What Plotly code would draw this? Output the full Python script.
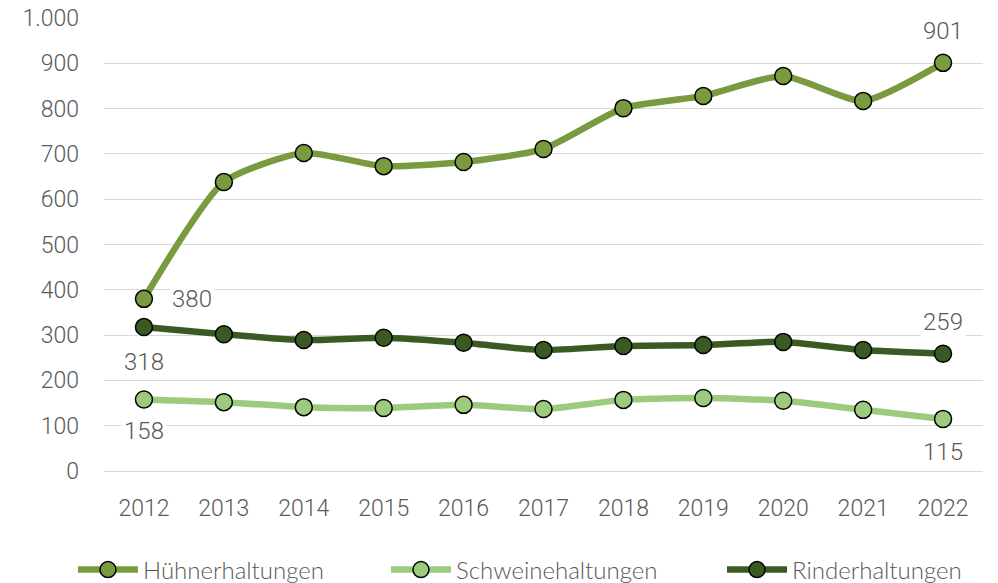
import plotly.graph_objects as go

years = [2012, 2013, 2014, 2015, 2016, 2017, 2018, 2019, 2020, 2021, 2022]
huehner = [380, 638, 702, 673, 682, 711, 801, 828, 872, 817, 901]
schweine = [158, 152, 141, 139, 146, 137, 157, 161, 155, 135, 115]
rinder = [318, 302, 289, 294, 283, 267, 276, 278, 285, 267, 259]
y_ticks = [0, 100, 200, 300, 400, 500, 600, 700, 800, 900, 1000]
y_ticktext = ["0", "100", "200", "300", "400", "500", "600", "700", "800", "900", "1.000"]

FONT = "Roboto, sans-serif"
LEGEND_FONT = "Lato, sans-serif"
GREY = "#595959"

series = [
    ("Hühnerhaltungen", huehner, "#7a9a40", "legend", -0.0353),
    ("Schweinehaltungen", schweine, "#9dcb7e", "legend2", 0.3208),
    ("Rinderhaltungen", rinder, "#3b5a23", "legend3", 0.7031),
]

fig = go.Figure()
for name, vals, col, leg, _ in series:
    fig.add_trace(go.Scatter(
        x=years, y=vals, name=name, mode="lines+markers", legend=leg,
        line=dict(color=col, width=6.5, shape="spline", smoothing=0.6),
        marker=dict(size=17, color=col, line=dict(color="black", width=1.5)),
    ))

# first/last value labels
labels = [
    (years[0], huehner[0], 48, 0),
    (years[0], rinder[0], 0, 35),
    (years[0], schweine[0], 0, 32),
    (years[-1], huehner[-1], 0, -32),
    (years[-1], rinder[-1], 0, -32),
    (years[-1], schweine[-1], 0, 33),
]
for x, v, ax, ay in labels:
    fig.add_annotation(
        x=x, y=v, text=str(v), showarrow=False, xshift=ax, yshift=-ay,
        font=dict(family=FONT, size=24, color=GREY, weight=300),
        bgcolor="white", borderpad=2,
    )

legend_style = dict(orientation="h", xanchor="left", y=-0.2185, yanchor="middle",
                    font=dict(family=LEGEND_FONT, size=24, color=GREY, weight=300),
                    itemwidth=60, bgcolor="rgba(0,0,0,0)")

fig.update_layout(
    width=998, height=583,
    margin=dict(l=104, r=15, t=18, b=112, autoexpand=False),
    plot_bgcolor="white", paper_bgcolor="white",
    font=dict(family=FONT, size=20, color=GREY, weight=300),
    showlegend=True,
    legend=dict(x=series[0][4], **legend_style),
    legend2=dict(x=series[1][4], **legend_style),
    legend3=dict(x=series[2][4], **legend_style),
)
fig.update_xaxes(range=[2011.5, 2022.5], tickvals=years, ticktext=[str(y) for y in years],
                 showgrid=False, showline=False, zeroline=False, ticks="",
                 automargin=False,
                 tickfont=dict(family=FONT, size=23, color=GREY, weight=300),
                 ticklabelstandoff=21)
fig.update_yaxes(range=[0, 1000], tickvals=y_ticks, ticktext=y_ticktext,
                 showgrid=True, gridcolor="#d9d9d9", gridwidth=1,
                 zeroline=True, zerolinecolor="#d9d9d9", zerolinewidth=1,
                 showline=False, ticks="", ticklabelstandoff=24, automargin=False,
                 tickfont=dict(family=FONT, size=23, color=GREY, weight=300))

fig.write_html("out.html")
